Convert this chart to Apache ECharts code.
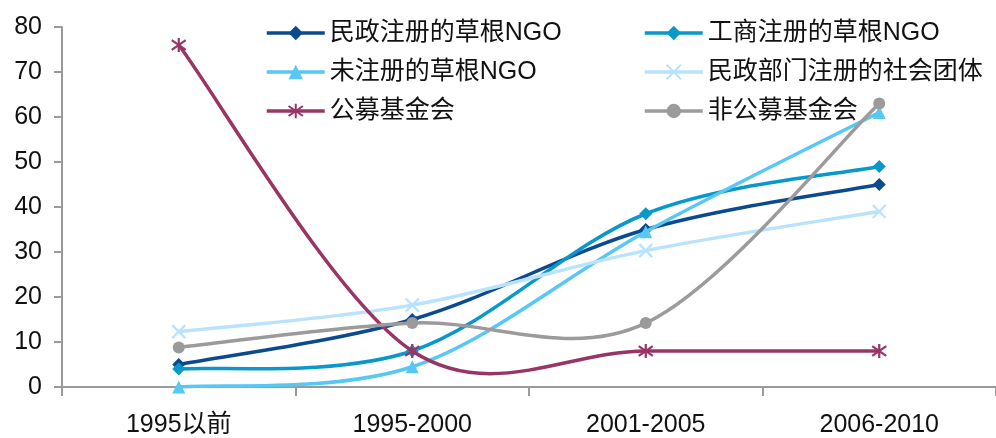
<!DOCTYPE html>
<html>
<head>
<meta charset="utf-8">
<script src="https://cdn.jsdelivr.net/npm/echarts@6/dist/echarts.min.js"></script>
<style>
  html, body { margin: 0; padding: 0; background: #ffffff; }
  #chart { width: 996px; height: 438px; }
</style>
</head>
<body>
<div id="chart"></div>
<script>
// Periods on the x axis
const periods = ['1995以前', '1995-2000', '2001-2005', '2006-2010'];

// Series names
const seriesNames = [
  '民政注册的草根NGO',
  '工商注册的草根NGO',
  '未注册的草根NGO',
  '民政部门注册的社会团体',
  '公募基金会',
  '非公募基金会'
];

// Values per period for each organisation type
const minzhengNGO = [5, 15, 35, 45];
const gongshangNGO = [4, 8, 38.5, 49];
const unregisteredNGO = [0, 4.5, 34.5, 61];
const socialGroups = [12.3, 18.2, 30.3, 39];
const publicFoundations = [76, 8, 8, 8];
const privateFoundations = [8.8, 14.2, 14.2, 63];

// Y axis scale
const yMin = 0;
const yMax = 80;
const yStep = 10;

const FONT = "'Liberation Sans', Arial, 'Noto Sans CJK SC', sans-serif";

const colors = ['#0b4a8e', '#0898ca', '#57c7f3', '#b9e2fd', '#983466', '#9b9b9b'];

// Stroked marks drawn as open paths
const crossPath = 'path://M0,0 L10,10 M10,0 L0,10';
const starPath = 'path://M5,0 L5,10 M0,1.5 L10,8.5 M10,1.5 L0,8.5';

const symbols = [
  { symbol: 'diamond', size: 13 },
  { symbol: 'diamond', size: 13 },
  { symbol: 'triangle', size: 13 },
  { symbol: crossPath, size: 13, stroke: true },
  { symbol: starPath, size: 14, stroke: true },
  { symbol: 'circle', size: 12 }
];

const dataSets = [minzhengNGO, gongshangNGO, unregisteredNGO, socialGroups, publicFoundations, privateFoundations];

const LINE_WIDTH = 3.5;

// Cardinal-spline curve through the pixel positions of a series' points
function curvePath(pts) {
  let d = 'M' + pts[0][0] + ',' + pts[0][1];
  for (let k = 0; k < pts.length - 1; k++) {
    const p0 = pts[Math.max(k - 1, 0)];
    const p1 = pts[k];
    const p2 = pts[k + 1];
    const p3 = pts[Math.min(k + 2, pts.length - 1)];
    const c1x = p1[0] + (p2[0] - p0[0]) / 6;
    const c1y = p1[1] + (p2[1] - p0[1]) / 6;
    const c2x = p2[0] - (p3[0] - p1[0]) / 6;
    const c2y = p2[1] - (p3[1] - p1[1]) / 6;
    d += ' C' + c1x + ',' + c1y + ' ' + c2x + ',' + c2y + ' ' + p2[0] + ',' + p2[1];
  }
  return d;
}

const series = [];
seriesNames.forEach((name, i) => {
  const values = dataSets[i];
  // smooth curve
  series.push({
    type: 'custom',
    coordinateSystem: 'cartesian2d',
    data: [[0, values[0]]],
    clip: false,
    silent: true,
    z: 2 + i,
    renderItem: function (params, api) {
      const pts = values.map((v, k) => api.coord([k, v]));
      return {
        type: 'path',
        shape: { pathData: curvePath(pts) },
        style: { stroke: colors[i], lineWidth: LINE_WIDTH, fill: null, lineJoin: 'round' }
      };
    }
  });
  // markers (and legend entry)
  const s = symbols[i];
  series.push({
    name: name,
    type: 'line',
    data: values,
    symbol: s.symbol,
    symbolSize: s.size,
    showSymbol: true,
    lineStyle: { color: colors[i], width: LINE_WIDTH, opacity: 0 },
    itemStyle: s.stroke
      ? { color: colors[i], borderColor: colors[i], borderWidth: 2.2 }
      : { color: colors[i] },
    emphasis: { disabled: true },
    z: 3 + i
  });
});

const legendText = { fontFamily: FONT, fontSize: 25, color: '#111', lineHeight: 26 };
const legendLine = { opacity: 1, width: LINE_WIDTH };

const chart = echarts.init(document.getElementById('chart'), null, { renderer: 'canvas' });
chart.setOption({
  animation: false,
  backgroundColor: '#ffffff',
  color: colors,
  textStyle: { fontFamily: FONT },
  legend: [
    {
      orient: 'vertical',
      left: 260,
      top: 15,
      itemWidth: 58,
      itemHeight: 18,
      itemGap: 13,
      textStyle: legendText,
      lineStyle: legendLine,
      data: [seriesNames[0], seriesNames[2], seriesNames[4]]
    },
    {
      orient: 'vertical',
      left: 638,
      top: 15,
      itemWidth: 58,
      itemHeight: 18,
      itemGap: 13,
      textStyle: legendText,
      lineStyle: legendLine,
      data: [seriesNames[1], seriesNames[3], seriesNames[5]]
    }
  ],
  grid: { left: 62, top: 27, width: 939, height: 360, containLabel: false },
  xAxis: {
    type: 'category',
    data: periods,
    boundaryGap: true,
    axisLine: { show: true, lineStyle: { color: '#9a9a9a', width: 2 } },
    axisTick: { show: true, length: 9, lineStyle: { color: '#9a9a9a', width: 2 } },
    axisLabel: { fontFamily: FONT, fontSize: 25, color: '#111', margin: 26 },
    splitLine: { show: false }
  },
  yAxis: {
    type: 'value',
    min: yMin,
    max: yMax,
    interval: yStep,
    axisLine: { show: true, lineStyle: { color: '#9a9a9a', width: 2 } },
    axisTick: { show: true, length: 8, lineStyle: { color: '#9a9a9a', width: 2 } },
    axisLabel: { fontFamily: FONT, fontSize: 25, color: '#111', margin: 20 },
    splitLine: { show: false }
  },
  series: series
});
</script>
</body>
</html>
